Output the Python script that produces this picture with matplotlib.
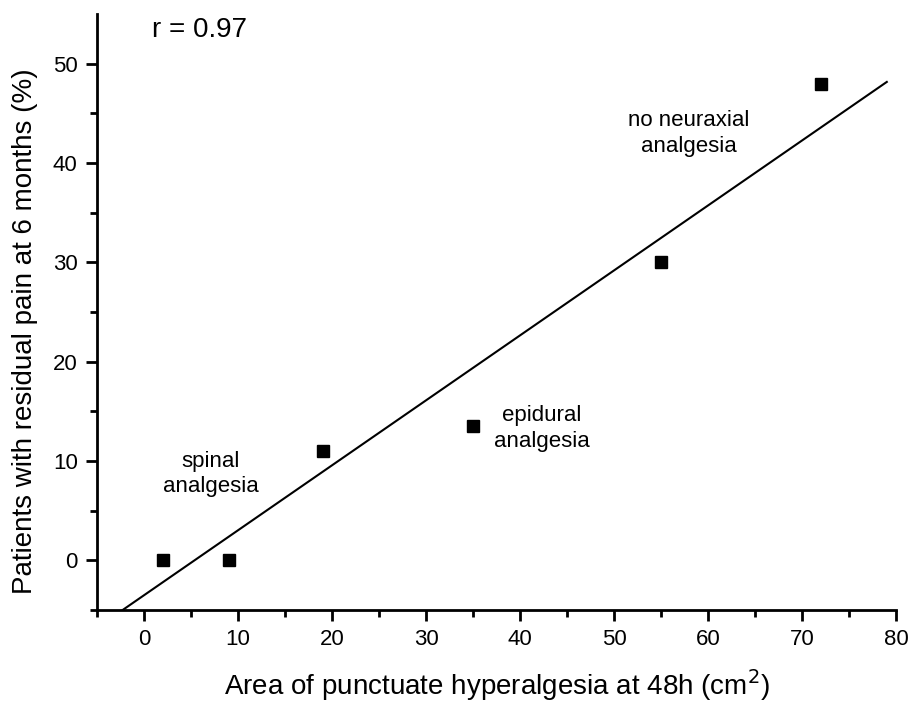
import numpy as np
import matplotlib
matplotlib.use('Agg')
import matplotlib.pyplot as plt

plt.rcParams['font.family'] = ['Liberation Sans', 'DejaVu Sans']

# hyperalgesia area vs residual pain, one point per group
area = [2, 9, 19, 35, 55, 72]
pain = [0, 0, 11, 13.5, 30, 48]

# regression line as drawn in the figure
slope = 0.654
intercept = -3.5
line_x = [-7, 79]

x_ticks = [0, 10, 20, 30, 40, 50, 60, 70, 80]
y_ticks = [0, 10, 20, 30, 40, 50]

labels = ['spinal\nanalgesia', 'epidural\nanalgesia', 'no neuraxial\nanalgesia']
label_x = [7.1, 42.3, 57.9]
label_y = [8.7, 13.3, 43.0]

fig = plt.figure(figsize=(9.08, 7.02), dpi=100)
ax = fig.add_axes([0.107, 0.131, 0.880, 0.849])

lx = np.array(line_x)
ax.plot(lx, slope * lx + intercept, color='black', lw=1.5)
ax.plot(area, pain, 's', color='black', markersize=8)

for t, x, y in zip(labels, label_x, label_y):
    ax.text(x, y, t, ha='center', va='center', fontsize=16, linespacing=1.3)
ax.text(0.85, 53.4, 'r = 0.97', ha='left', va='center', fontsize=20)

ax.set_xlim(-5, 80)
ax.set_ylim(-5, 55)
ax.set_xticks(x_ticks)
ax.set_yticks(y_ticks)
ax.set_xticks(np.arange(-5, 80, 10), minor=True)
ax.set_yticks(np.arange(-5, 55, 10), minor=True)

for s in ['top', 'right']:
    ax.spines[s].set_visible(False)
for s in ['left', 'bottom']:
    ax.spines[s].set_linewidth(2)
ax.tick_params(which='major', direction='out', length=8, width=2, labelsize=16, pad=6)
ax.tick_params(which='minor', direction='out', length=5, width=2)

ax.set_xlabel('Area of punctuate hyperalgesia at 48h (cm$^2$)', fontsize=20, labelpad=12)
ax.set_ylabel('Patients with residual pain at 6 months (%)', fontsize=20)
ax.yaxis.set_label_coords(-0.074, 0.468)

fig.savefig('out.png', dpi=100)
